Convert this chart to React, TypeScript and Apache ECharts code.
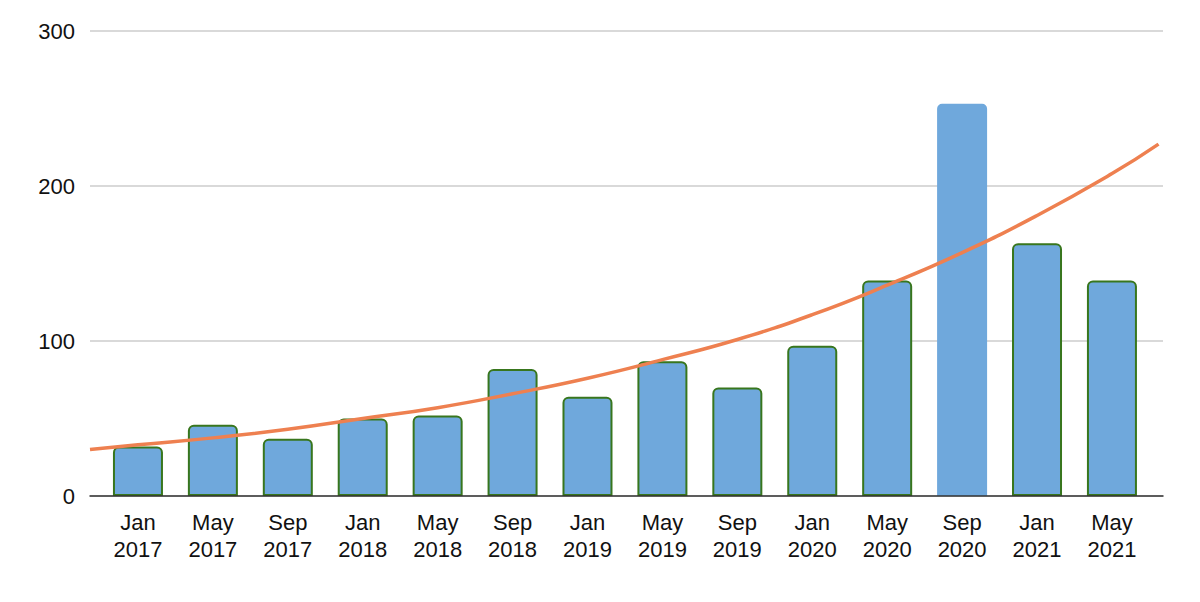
import React, { useEffect, useRef } from "react";
import * as echarts from "echarts";

const categories = [
  "Jan\n2017", "May\n2017", "Sep\n2017", "Jan\n2018", "May\n2018", "Sep\n2018", "Jan\n2019",
  "May\n2019", "Sep\n2019", "Jan\n2020", "May\n2020", "Sep\n2020", "Jan\n2021", "May\n2021",
];
const barValues = [32, 46, 37, 50, 52, 82, 64, 87, 70, 97, 139, 253, 163, 139];
// trend line: [position in category units, value]
const trendX = [-0.64, 0, 1, 2, 3, 4, 5, 6, 7, 8, 9, 10, 11, 12, 13, 13.62];
const trendY = [30, 33, 37.5, 43, 50, 57, 66, 76, 88, 101, 117, 136, 157, 181, 208, 227];
const yTicks = [0, 100, 200, 300];

export default function App() {
  const ref = useRef<HTMLDivElement>(null);
  useEffect(() => {
    if (!ref.current) return;
    const chart = echarts.init(ref.current, null, { renderer: "svg" });
    const font = "'Liberation Sans', Arial, sans-serif";
    chart.setOption({
      animation: false,
      backgroundColor: "#ffffff",
      grid: [
        { left: 90, right: 37, top: 31, bottom: 106 },
        { left: 100.5, right: 50.6, top: 31, bottom: 106 },
      ],
      xAxis: [
        {
          type: "value",
          gridIndex: 0,
          min: -0.64,
          max: 13.68,
          z: 10,
          axisLine: { show: true, onZero: false, lineStyle: { color: "#333333", width: 1.5 } },
          axisTick: { show: false },
          axisLabel: { show: false },
          splitLine: { show: false },
        },
        {
          type: "category",
          gridIndex: 1,
          data: categories,
          axisLine: { show: false },
          axisTick: { show: false },
          axisLabel: {
            color: "#111111",
            fontSize: 22,
            fontFamily: font,
            lineHeight: 27,
            margin: 13,
            interval: 0,
          },
        },
      ],
      yAxis: [
        {
          type: "value",
          gridIndex: 0,
          min: yTicks[0],
          max: yTicks[yTicks.length - 1],
          interval: 100,
          axisLine: { show: false },
          axisTick: { show: false },
          axisLabel: { color: "#111111", fontSize: 22, fontFamily: font, margin: 15 },
          splitLine: { lineStyle: { color: "#cccccc", width: 1.5 } },
        },
        {
          type: "value",
          gridIndex: 1,
          min: 0,
          max: 300,
          interval: 100,
          show: false,
          splitLine: { show: false },
        },
      ],
      series: [
        {
          type: "bar",
          xAxisIndex: 1,
          yAxisIndex: 1,
          barWidth: 50,
          data: barValues.map((v, i) => ({
            value: v,
            itemStyle:
              i === 11
                ? { borderWidth: 0 }
                : { borderWidth: 2, borderColor: "#38761d" },
          })),
          itemStyle: { color: "#6fa8dc", borderRadius: [5, 5, 0, 0] },
          z: 2,
        },
        {
          type: "line",
          xAxisIndex: 0,
          yAxisIndex: 0,
          data: trendX.map((x, i) => [x, trendY[i]]),
          smooth: true,
          symbol: "none",
          lineStyle: { color: "#ee8050", width: 3.5 },
          z: 3,
        },
      ],
    });
    return () => chart.dispose();
  }, []);
  return (
    <div
      ref={ref}
      style={{ position: "fixed", left: 0, top: 0, width: 1200, height: 602 }}
    />
  );
}
